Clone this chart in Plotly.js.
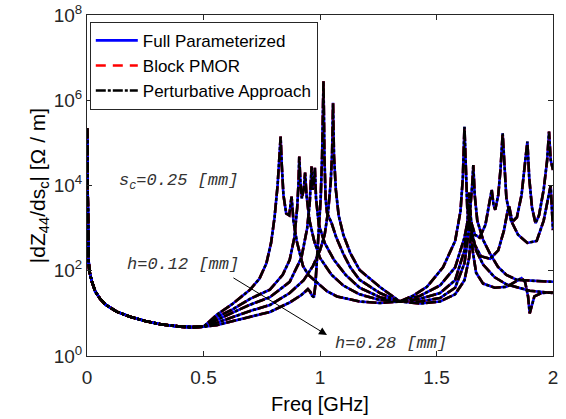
<!DOCTYPE html>
<html><head><meta charset="utf-8">
<script src="https://cdn.plot.ly/plotly-3.0.1.min.js"></script>
<style>html,body{margin:0;padding:0;background:#fff;}#plot{width:566px;height:419px;}</style>
</head><body><div id="plot"></div>
<script>
// shared low-frequency part (all h values coincide)
const freqShared = [0, 0.003, 0.006, 0.01, 0.02, 0.035, 0.056, 0.08, 0.127, 0.185, 0.25, 0.32, 0.4, 0.45, 0.5];
const valShared  = [2.2e5, 2000, 200, 100, 58, 33, 22, 16, 11, 8.3, 6.6, 5.5, 4.9, 4.75, 4.85];

// h = 0.12 mm
const freqA = [0.556,0.62,0.70,0.74,0.77,0.79,0.805,0.818,0.826,0.831,0.836,0.843,0.855,0.868,0.878,0.886,0.9,0.927,0.95,0.987,1.03,1.073,1.17,1.257,1.343,1.40,1.459,1.528,1.58,1.603,1.613,1.62,1.625,1.632,1.645,1.67,1.70,1.75,1.80,1.9,2.0];
const valA  = [9.2,16,36,65,150,450,1800,1e4,5e4,1.4e5,3e4,6000,2200,2000,5500,1500,500,130,80,52,33,25,19,17.5,19,26,42,120,500,2500,1.5e4,2.4e5,2e4,3000,900,300,140,70,48,34,30];

// h = 0.16 mm
const freqB = [0.556,0.62,0.70,0.785,0.84,0.87,0.89,0.902,0.908,0.911,0.916,0.922,0.93,0.936,0.942,0.955,0.975,1.0,1.05,1.1,1.17,1.257,1.343,1.43,1.515,1.58,1.62,1.645,1.653,1.658,1.664,1.675,1.70,1.73,1.764,1.80,1.845,1.92,2.0];
const valB  = [8.2,12,22,36,80,180,600,3000,1.2e4,4.8e4,1.2e4,5000,8000,2e4,6000,1500,500,200,80,45,28,20.6,19,26,45,120,600,3000,1e4,3e4,6000,1500,530,250,123,80,61,57,55];

// h = 0.20 mm
const freqC = [0.556,0.62,0.70,0.785,0.87,0.92,0.945,0.956,0.961,0.964,0.968,0.973,0.978,0.983,0.995,1.02,1.06,1.11,1.17,1.257,1.343,1.43,1.515,1.58,1.62,1.633,1.64,1.647,1.665,1.685,1.71,1.727,1.737,1.745,1.752,1.765,1.775,1.784,1.792,1.80,1.82,1.85,1.89,1.93,1.96,1.98,1.99,1.995,2.0];
const valC  = [7,10,16,24,55,200,1000,4000,1.2e4,2.8e4,8000,1e4,2.6e4,5000,1200,450,180,80,40,24,19,22,30,60,300,1500,6800,1500,700,600,1200,3500,7900,3500,2700,6000,2.5e4,1.67e5,2e4,5000,1500,700,450,500,1500,6000,1e4,3000,900];

// h = 0.24 mm
const freqD = [0.556,0.62,0.70,0.785,0.87,0.93,0.97,1.0,1.02,1.035,1.046,1.052,1.056,1.06,1.068,1.08,1.1,1.13,1.17,1.257,1.343,1.43,1.515,1.58,1.62,1.637,1.645,1.652,1.665,1.69,1.73,1.765,1.79,1.805,1.812,1.825,1.845,1.865,1.88,1.89,1.898,1.91,1.925,1.94,1.96,1.975,1.983,1.99,2.0];
const valD  = [6,8,11.4,15.7,30,60,130,300,700,2500,1.2e4,6e4,8.7e5,5e4,8000,2000,700,260,104,41.6,19,19,23,40,150,700,2700,800,400,220,190,300,900,2500,3200,1400,1800,6000,3e4,1.07e5,1.5e4,3000,1300,2000,8000,4e4,1.85e5,4e4,2.3e4];

// h = 0.28 mm
const freqE = [0.556,0.62,0.70,0.785,0.87,0.92,0.948,0.958,0.966,0.974,0.98,0.987,0.995,1.003,1.009,1.015,1.019,1.024,1.03,1.04,1.05,1.07,1.1,1.13,1.17,1.257,1.343,1.43,1.515,1.58,1.62,1.64,1.646,1.65,1.655,1.67,1.70,1.75,1.80,1.84,1.865,1.88,1.893,1.9,1.908,1.92,1.95,2.0];
const valE  = [5.3,6.5,8.2,10.8,18,27,37,32,26,24,45,180,800,5000,5e4,2.8e6,5e4,5000,2300,1800,1300,600,250,120,61,30,19,17,19,28,60,200,500,1100,300,90,50,40,42,55,67,55,25,10,15,25,30,31];

const seriesNames = ['Full Parameterized', 'Block PMOR', 'Perturbative Approach'];
const tickVals = [1, 1e2, 1e4, 1e6, 1e8];
const tickText = ['10<sup>0</sup>', '10<sup>2</sup>', '10<sup>4</sup>', '10<sup>6</sup>', '10<sup>8</sup>'];
const xTickVals = [0, 0.5, 1, 1.5, 2];
const xTickText = ['0', '0.5', '1', '1.5', '2'];

const curves = [[freqA, valA], [freqB, valB], [freqC, valC], [freqD, valD], [freqE, valE]];
const styles = [
  {color: '#0000ff', dash: 'solid', width: 2.6},
  {color: '#ff0000', dash: '10px,7px', width: 2.6},
  {color: '#000000', dash: '10px,2px,3px,2px', width: 2.6}
];

const traces = [];
styles.forEach((st, si) => {
  curves.forEach((c, ci) => {
    traces.push({
      x: freqShared.concat(c[0]),
      y: valShared.concat(c[1]),
      type: 'scatter', mode: 'lines',
      name: seriesNames[si],
      showlegend: ci === 0,
      line: {color: st.color, width: st.width, dash: st.dash},
      hoverinfo: 'skip'
    });
  });
});

const annFont = {family: 'Liberation Mono, Courier New, monospace', size: 17, color: '#333333'};
const layout = {
  width: 566, height: 419,
  margin: {l: 87, r: 13, t: 15, b: 63},
  paper_bgcolor: '#ffffff', plot_bgcolor: '#ffffff',
  showlegend: true,
  font: {family: 'Liberation Sans, Arial, sans-serif', color: '#262626'},
  xaxis: {
    range: [0, 2], tickvals: xTickVals, ticktext: xTickText,
    ticks: 'inside', ticklen: 5, tickcolor: '#262626', mirror: 'ticks',
    showline: true, linecolor: '#262626', linewidth: 1, showgrid: false, zeroline: false,
    tickfont: {size: 19, color: '#262626'}, ticklabelstandoff: 4,
    title: {text: 'Freq [GHz]', font: {size: 20, color: '#000000'}, standoff: 10}
  },
  yaxis: {
    type: 'log', range: [0, 8], tickvals: tickVals, ticktext: tickText,
    ticks: 'inside', ticklen: 5, tickcolor: '#262626', mirror: 'ticks',
    showline: true, linecolor: '#262626', linewidth: 1, showgrid: false, zeroline: false,
    tickfont: {size: 19, color: '#262626'},
    title: {text: '|dZ<sub>44</sub>/ds<sub>c</sub>| [Ω / m]', font: {size: 21, color: '#000000'}, standoff: 2}
  },
  legend: {
    x: 0.006, y: 0.98, xanchor: 'left', yanchor: 'top',
    bgcolor: '#ffffff', bordercolor: '#262626', borderwidth: 1,
    font: {size: 17, color: '#000000'}, itemwidth: 42
  },
  annotations: [
    {xref: 'paper', yref: 'paper', x: 0.197, y: 0.51, xanchor: 'center', yanchor: 'middle',
     text: '<i>s<sub>c</sub>=0.25 [mm]</i>', showarrow: false, font: annFont},
    {xref: 'paper', yref: 'paper', x: 0.0815, y: 0.267, xanchor: 'left', yanchor: 'middle',
     text: '<i>h=0.12 [mm]</i>', showarrow: false, font: annFont},
    {xref: 'paper', yref: 'paper', x: 0.528, y: 0.038, xanchor: 'left', yanchor: 'middle',
     text: '<i>h=0.28 [mm]</i>', showarrow: false, font: annFont},
    {xref: 'x', yref: 'y', x: 1.03, y: 0.493, axref: 'x', ayref: 'y', ax: 0.622, ay: 1.854,
     text: '', showarrow: true, arrowhead: 2, arrowsize: 1.6, arrowwidth: 1, arrowcolor: '#000000'}
  ]
};

Plotly.newPlot('plot', traces, layout, {displayModeBar: false, staticPlot: true});
</script>
</body></html>
